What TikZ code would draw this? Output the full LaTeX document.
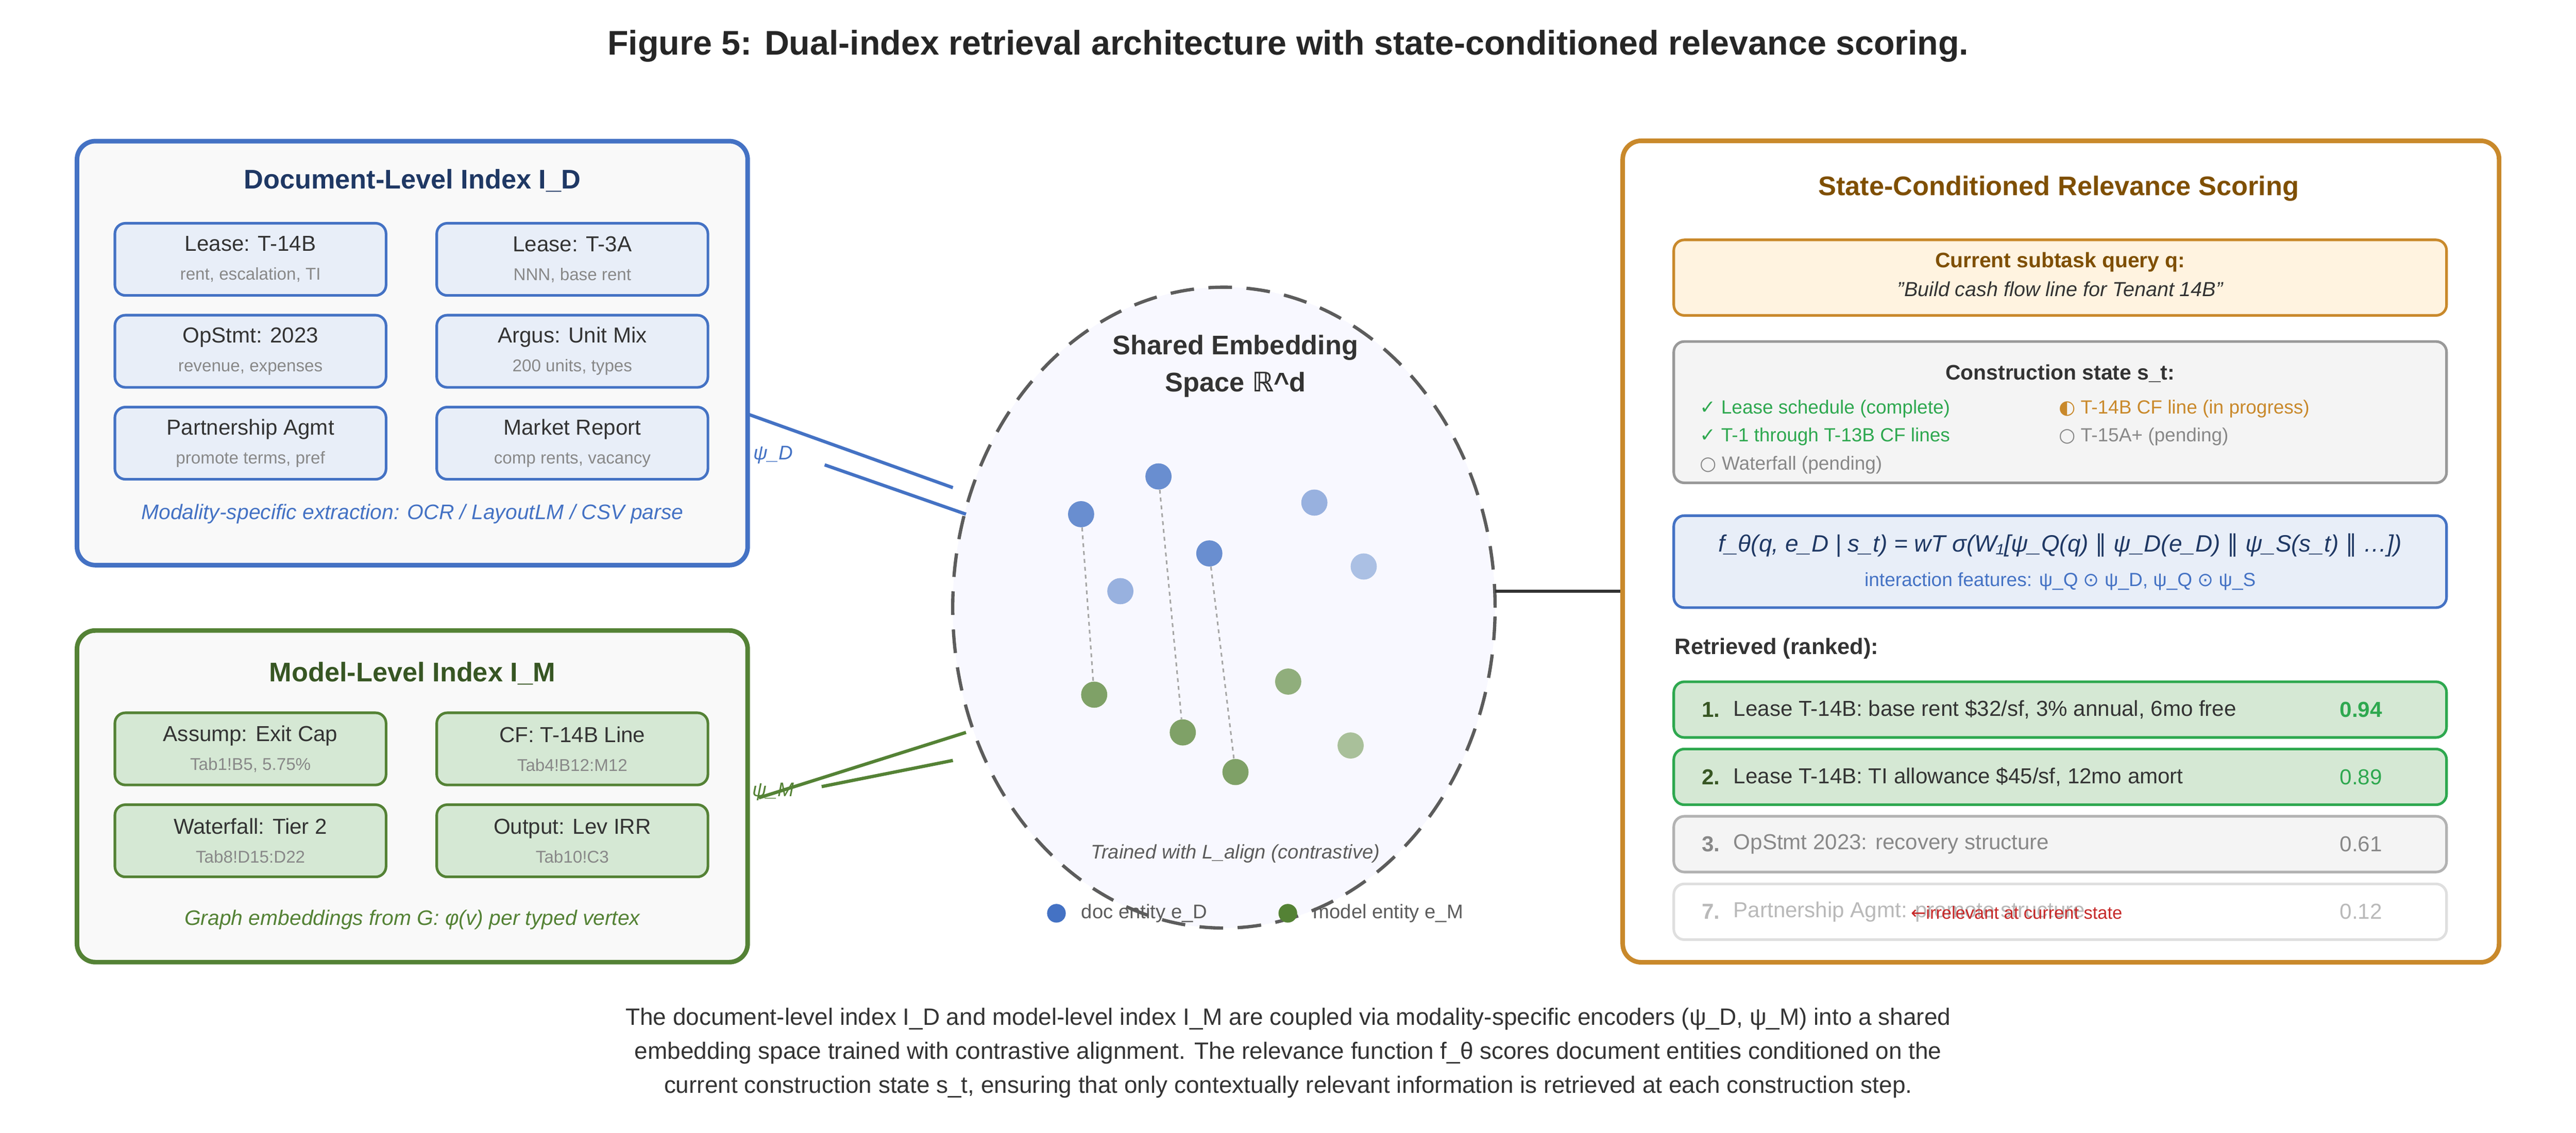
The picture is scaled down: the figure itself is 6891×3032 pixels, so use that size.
\documentclass[tikz,border=0pt]{standalone}
\usepackage{fontspec}
\setmainfont{Liberation Sans}
\newfontfamily\symf{DejaVu Sans}
\usetikzlibrary{positioning,shapes.geometric}

\definecolor{docblue}{HTML}{4472C4}
\definecolor{docnavy}{HTML}{1F3864}
\definecolor{docfill}{HTML}{E8EEF8}
\definecolor{modgreen}{HTML}{548235}
\definecolor{moddark}{HTML}{375623}
\definecolor{modfill}{HTML}{D5E8D4}
\definecolor{scorange}{HTML}{C9892B}
\definecolor{scbrown}{HTML}{7F4F00}
\definecolor{qfill}{HTML}{FFF3E0}
\definecolor{okgreen}{HTML}{2EA84F}
\definecolor{panelbg}{HTML}{F9F9F9}
\definecolor{greybg}{HTML}{F4F4F4}
\definecolor{txtgrey}{HTML}{888888}
\definecolor{txtdark}{HTML}{333333}
\definecolor{spacebg}{HTML}{F8F8FF}
\definecolor{badred}{HTML}{C62828}

\newcommand{\subfontA}{\fontsize{13}{18}\selectfont\color{txtgrey}}

\tikzset{
  panel/.style={draw, line width=3.5pt, rounded corners=14pt, fill=panelbg},
  item/.style={draw, line width=2pt, rounded corners=8pt, minimum width=7.25cm, minimum height=1.93cm, align=center, text=txtdark, font=\fontsize{16.5}{24}\selectfont},
  docitem/.style={item, draw=docblue, fill=docfill},
  moditem/.style={item, draw=modgreen, fill=modfill},
  inbox/.style={draw, line width=2pt, rounded corners=8pt, minimum width=20.66cm},
  rowbox/.style={inbox, minimum height=1.49cm},
  rank/.style={anchor=west, font=\fontsize{16.5}{20}\selectfont},
  dot/.style={circle, minimum size=0.7cm, inner sep=0pt},
  stitem/.style={anchor=west, font=\fontsize{14.5}{18}\selectfont},
}

\begin{document}
\begin{tikzpicture}[x=0.01cm, y=-0.01cm]
	\useasboundingbox (0,0) rectangle (6891,3032);
	
	\node[font=\bfseries\fontsize{26}{30}\selectfont, text=black!85] (title) at (3446,123) {Figure 5: Dual-index retrieval architecture with state-conditioned relevance scoring.};
	
	% document-level index
	\node[panel, draw=docblue, minimum width=17.93cm, minimum height=11.34cm] (docidx) at (1103,945) {};
	\node[font=\bfseries\fontsize{20.5}{24}\selectfont, text=docnavy] (doctitle) at (1103,483) {Document-Level Index I\_D};
	\node[docitem] (d1) at (670,694) {Lease: T-14B\\[-2pt]{\subfontA rent, escalation, TI}};
	\node[docitem] (d2) at (1531,694) {Lease: T-3A\\[-2pt]{\subfontA NNN, base rent}};
	\node[docitem] (d3) at (670,940) {OpStmt: 2023\\[-2pt]{\subfontA revenue, expenses}};
	\node[docitem] (d4) at (1531,940) {Argus: Unit Mix\\[-2pt]{\subfontA 200 units, types}};
	\node[docitem] (d5) at (670,1186) {Partnership Agmt\\[-2pt]{\subfontA promote terms, pref}};
	\node[docitem] (d6) at (1531,1186) {Market Report\\[-2pt]{\subfontA comp rents, vacancy}};
	\node[font=\itshape\fontsize{16}{18}\selectfont, text=docblue] (docnote) at (1103,1376) {Modality-specific extraction: OCR / LayoutLM / CSV parse};
	
	% model-level index
	\node[panel, draw=modgreen, minimum width=17.93cm, minimum height=8.87cm] (modidx) at (1103,2131) {};
	\node[font=\bfseries\fontsize{20.5}{24}\selectfont, text=moddark] (modtitle) at (1103,1802) {Model-Level Index I\_M};
	\node[moditem] (m1) at (670,2004) {Assump: Exit Cap\\[-2pt]{\subfontA Tab1!B5, 5.75\%}};
	\node[moditem] (m2) at (1531,2004) {CF: T-14B Line\\[-2pt]{\subfontA Tab4!B12:M12}};
	\node[moditem] (m3) at (670,2250) {Waterfall: Tier 2\\[-2pt]{\subfontA Tab8!D15:D22}};
	\node[moditem] (m4) at (1531,2250) {Output: Lev IRR\\[-2pt]{\subfontA Tab10!C3}};
	\node[font=\itshape\fontsize{16}{18}\selectfont, text=modgreen] (modnote) at (1103,2461) {Graph embeddings from G: φ(v) per typed vertex};
	
	% shared embedding space
	\node[ellipse, draw=txtdark!80, dash pattern=on 18pt off 11pt, line width=2.5pt, fill=spacebg, minimum width=14.5cm, minimum height=17.14cm, inner sep=0pt] (space) at (3274,1626) {};
	\node[font=\bfseries\fontsize{20.5}{28}\selectfont, text=txtdark, align=center] (spacetitle) at (3305,980) {Shared Embedding\\Space {\symf ℝ}\textasciicircum d};
	\node[dot, fill=docblue!80] (b1) at (2892,1376) {};
	\node[dot, fill=docblue!80] (b2) at (3099,1275) {};
	\node[dot, fill=docblue!80] (b3) at (3235,1481) {};
	\node[dot, fill=docblue!55] (b4) at (2997,1582) {};
	\node[dot, fill=docblue!55] (b5) at (3516,1345) {};
	\node[dot, fill=docblue!45] (b6) at (3648,1516) {};
	\node[dot, fill=modgreen!75] (g1) at (2927,1859) {};
	\node[dot, fill=modgreen!75] (g2) at (3164,1960) {};
	\node[dot, fill=modgreen!75] (g3) at (3305,2066) {};
	\node[dot, fill=modgreen!65] (g4) at (3446,1824) {};
	\node[dot, fill=modgreen!50] (g5) at (3613,1995) {};
	\draw[gray!70, dashed, line width=1.2pt] (b1) -- (g1);
	\draw[gray!70, dashed, line width=1.2pt] (b2) -- (g2);
	\draw[gray!70, dashed, line width=1.2pt] (b3) -- (g3);
	\node[font=\itshape\fontsize{15}{18}\selectfont, text=txtdark!80] (aligntxt) at (3305,2285) {Trained with L\_align (contrastive)};
	\node[dot, fill=docblue, minimum size=0.5cm] (legb) at (2826,2444) {};
	\node[anchor=west, font=\fontsize{15}{18}\selectfont, text=txtdark!80] (legbtxt) at (2880,2444) {doc entity e\_D};
	\node[dot, fill=modgreen, minimum size=0.5cm] (legg) at (3445,2444) {};
	\node[anchor=west, font=\fontsize{15}{18}\selectfont, text=txtdark!80] (leggtxt) at (3500,2444) {model entity e\_M};
	
	% encoders
	\coordinate (pd1) at (2000,1108);
	\coordinate (pd2) at (2549,1305);
	\coordinate (pd3) at (2206,1244);
	\coordinate (pd4) at (2584,1376);
	\draw[docblue, line width=2.5pt] (pd1) -- (pd2);
	\draw[docblue, line width=2.5pt] (pd3) -- (pd4);
	\node[font=\itshape\fontsize{15}{18}\selectfont, text=docblue] (psid) at (2068,1217) {ψ\_D};
	\coordinate (pm1) at (2030,2135);
	\coordinate (pm2) at (2584,1960);
	\coordinate (pm3) at (2198,2105);
	\coordinate (pm4) at (2549,2035);
	\draw[modgreen, line width=2.5pt] (pm1) -- (pm2);
	\draw[modgreen, line width=2.5pt] (pm3) -- (pm4);
	\node[font=\itshape\fontsize{15}{18}\selectfont, text=modgreen] (psim) at (2068,2118) {ψ\_M};
	
	% relevance scoring
	\node[panel, draw=scorange, fill=white, minimum width=23.43cm, minimum height=21.97cm] (score) at (5513,1476) {};
	\coordinate (sp) at (4000,1582);
	\draw[txtdark, line width=2.5pt] (sp) -- (score.west |- sp);
	\node[font=\bfseries\fontsize{20.5}{24}\selectfont, text=scbrown] (scoretitle) at (5507,505) {State-Conditioned Relevance Scoring};
	
	\node[inbox, draw=scorange, fill=qfill, minimum height=2.02cm] (query) at (5511,743) {};
	\node[font=\bfseries\fontsize{16}{18}\selectfont, text=scbrown] (qtitle) at (5511,702) {Current subtask query q:};
	\node[font=\itshape\fontsize{15.5}{18}\selectfont, text=txtdark] (qtext) at (5511,773) {"Build cash flow line for Tenant 14B"};
	
	\node[inbox, draw=gray!80, fill=greybg, minimum height=3.78cm] (state) at (5511,1103) {};
	\node[font=\bfseries\fontsize{16}{18}\selectfont, text=txtdark] (sttitle) at (5511,1000) {Construction state s\_t:};
	\node[stitem, text=okgreen] (st1) at (4535,1094) {{\symf ✓} Lease schedule (complete)};
	\node[stitem, text=okgreen] (st2) at (4535,1169) {{\symf ✓} T-1 through T-13B CF lines};
	\node[stitem, text=txtgrey] (st3) at (4535,1244) {{\symf ○} Waterfall (pending)};
	\node[stitem, text=scorange] (st4) at (5495,1094) {{\symf ◐} T-14B CF line (in progress)};
	\node[stitem, text=txtgrey] (st5) at (5495,1169) {{\symf ○} T-15A+ (pending)};
	
	\node[inbox, draw=docblue, fill=docfill, minimum height=2.46cm] (formula) at (5511,1503) {};
	\node[font=\itshape\fontsize{18}{20}\selectfont, text=docnavy] (ftext) at (5511,1459) {f\_θ(q, e\_D | s\_t) = wT σ(W₁[ψ\_Q(q) {\symf ∥} ψ\_D(e\_D) {\symf ∥} ψ\_S(s\_t) {\symf ∥} …])};
	\node[font=\fontsize{14.5}{18}\selectfont, text=docblue] (finter) at (5511,1556) {interaction features: ψ\_Q {\symf ⊙} ψ\_D, ψ\_Q {\symf ⊙} ψ\_S};
	
	\node[anchor=west, font=\bfseries\fontsize{17}{20}\selectfont, text=txtdark] (rettitle) at (4468,1736) {Retrieved (ranked):};
	
	\node[rowbox, draw=okgreen, fill=modfill] (r1) at (5511,1899) {};
	\node[rank, text=moddark, font=\bfseries\fontsize{16.5}{20}\selectfont] (r1n) at (4540,1899) {1.};
	\node[rank, text=txtdark] (r1t) at (4625,1899) {Lease T-14B: base rent \$32/sf, 3\% annual, 6mo free};
	\node[font=\bfseries\fontsize{16.5}{20}\selectfont, text=okgreen] (r1s) at (6316,1899) {0.94};
	
	\node[rowbox, draw=okgreen, fill=modfill] (r2) at (5511,2079) {};
	\node[rank, text=moddark, font=\bfseries\fontsize{16.5}{20}\selectfont] (r2n) at (4540,2079) {2.};
	\node[rank, text=txtdark] (r2t) at (4625,2079) {Lease T-14B: TI allowance \$45/sf, 12mo amort};
	\node[font=\fontsize{16.5}{20}\selectfont, text=okgreen] (r2s) at (6316,2079) {0.89};
	
	\node[rowbox, draw=gray!60, fill=greybg] (r3) at (5511,2259) {};
	\node[rank, text=txtgrey, font=\bfseries\fontsize{16.5}{20}\selectfont] (r3n) at (4540,2259) {3.};
	\node[rank, text=txtgrey] (r3t) at (4625,2259) {OpStmt 2023: recovery structure};
	\node[font=\fontsize{16.5}{20}\selectfont, text=txtgrey] (r3s) at (6316,2259) {0.61};
	
	\node[rowbox, draw=gray!25, fill=white] (r4) at (5511,2440) {};
	\node[rank, text=gray!55, font=\bfseries\fontsize{16.5}{20}\selectfont] (r4n) at (4540,2440) {7.};
	\node[rank, text=gray!55] (r4t) at (4625,2440) {Partnership Agmt: promote structure};
	\node[anchor=west, font=\fontsize{13.5}{16}\selectfont, text=badred] (r4x) at (5100,2443) {{\symf ←}irrelevant at current state};
	\node[font=\fontsize{16.5}{20}\selectfont, text=gray!55] (r4s) at (6316,2440) {0.12};
	
	% caption
	\node[align=center, font=\fontsize{18}{26}\selectfont, text=txtdark] (caption) at (3446,2818) {The document-level index I\_D and model-level index I\_M are coupled via modality-specific encoders (ψ\_D, ψ\_M) into a shared\\embedding space trained with contrastive alignment. The relevance function f\_θ scores document entities conditioned on the\\current construction state s\_t, ensuring that only contextually relevant information is retrieved at each construction step.};
\end{tikzpicture}
\end{document}
